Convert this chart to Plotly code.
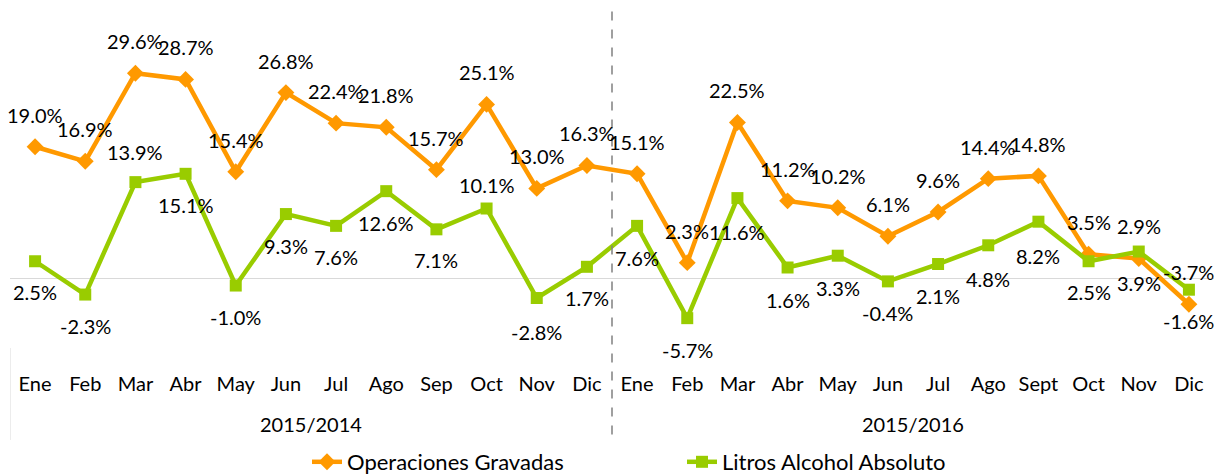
import plotly.graph_objects as go

meses = ["Ene", "Feb", "Mar", "Abr", "May", "Jun", "Jul", "Ago", "Sep", "Oct", "Nov", "Dic",
         "Ene", "Feb", "Mar", "Abr", "May", "Jun", "Jul", "Ago", "Sept", "Oct", "Nov", "Dic"]
periodos = ["2015/2014", "2015/2016"]

operaciones = [19.0, 16.9, 29.6, 28.7, 15.4, 26.8, 22.4, 21.8, 15.7, 25.1, 13.0, 16.3,
               15.1, 2.3, 22.5, 11.2, 10.2, 6.1, 9.6, 14.4, 14.8, 3.5, 2.9, -3.7]
litros = [2.5, -2.3, 13.9, 15.1, -1.0, 9.3, 7.6, 12.6, 7.1, 10.1, -2.8, 1.7,
          7.6, -5.7, 11.6, 1.6, 3.3, -0.4, 2.1, 4.8, 8.2, 2.5, 3.9, -1.6]
# vertical label offset (px) for the green series: positive above, negative below
desplaz_litros = [-31, -31, 30, -31, -31, -32, -31, -32, -31, 24, -34, -31,
                  -32, -32, -34, -32, -32, -32, -32, -34, -34, -31, -31, -31]

NARANJA = "#FF9900"
VERDE = "#99CC00"
FONT = "Lato, 'Open Sans', sans-serif"
FS = 20

x = list(range(len(meses)))

fig = go.Figure()
fig.add_trace(go.Scatter(
    x=x, y=operaciones, name="Operaciones Gravadas", mode="lines+markers",
    line=dict(color=NARANJA, width=4.5),
    marker=dict(symbol="diamond", size=13, color=NARANJA),
))
fig.add_trace(go.Scatter(
    x=x, y=litros, name="Litros Alcohol Absoluto", mode="lines+markers",
    line=dict(color=VERDE, width=4.5),
    marker=dict(symbol="square", size=12, color=VERDE),
))

anots = []
for i, v in enumerate(operaciones):
    anots.append(dict(x=i, y=v, xref="x", yref="y", text=f"{v:.1f}%", showarrow=False,
                      yshift=32, font=dict(size=FS, color="#000000", family=FONT)))
for i, v in enumerate(litros):
    anots.append(dict(x=i, y=v, xref="x", yref="y", text=f"{v:.1f}%", showarrow=False,
                      yshift=desplaz_litros[i], font=dict(size=FS, color="#000000", family=FONT)))
for k, p in enumerate(periodos):
    anots.append(dict(x=5.5 + 12 * k, y=-0.218, xref="x", yref="paper", text=p,
                      showarrow=False, yanchor="middle",
                      font=dict(size=FS, color="#000000", family=FONT)))

shapes = [
    # separator between the two periods
    dict(type="line", xref="x", yref="paper", x0=11.5, x1=11.5, y0=0.97, y1=-0.265,
         line=dict(color="#808080", width=1.5, dash="dash")),
    # left edge of the category axis
    dict(type="line", xref="x", yref="paper", x0=-0.5, x1=-0.5, y0=0.0, y1=-0.265,
         line=dict(color="#D9D9D9", width=1)),
]

fig.update_layout(
    width=1214, height=474,
    margin=dict(l=10, r=0, t=1, b=126),
    paper_bgcolor="white", plot_bgcolor="white",
    font=dict(family=FONT, size=FS, color="#000000"),
    showlegend=True,
    legend=dict(orientation="h", xref="container", yref="container",
                x=307 / 1214, xanchor="left", y=12 / 474, yanchor="middle",
                font=dict(size=22, family=FONT), entrywidth=330,
                bgcolor="rgba(0,0,0,0)"),
    annotations=anots,
    shapes=shapes,
    xaxis=dict(range=[-0.5, 23.5], tickmode="array", tickvals=x, ticktext=meses,
               showgrid=False, zeroline=False, showline=False, ticks="",
               ticklabelstandoff=22, tickfont=dict(size=FS, family=FONT)),
    yaxis=dict(range=[-10, 40], showgrid=False, showticklabels=False, ticks="",
               zeroline=True, zerolinecolor="#D9D9D9", zerolinewidth=1, showline=False),
)

fig.write_html("out.html")
